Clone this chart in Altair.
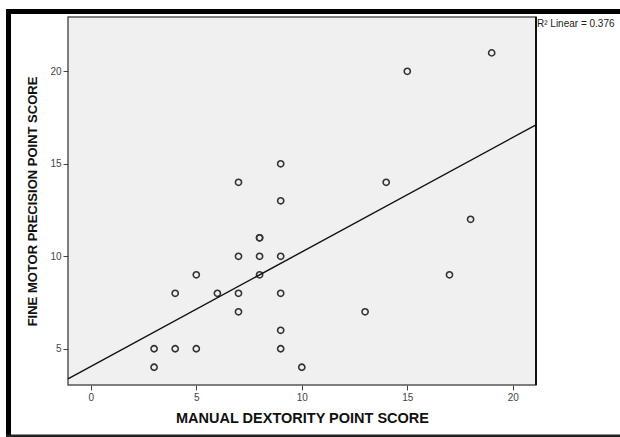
import altair as alt
import pandas as pd

# Data
manual_dexterity = [3, 3, 4, 4, 5, 5, 6, 7, 7, 7, 7, 8, 8, 8, 8, 9, 9, 9, 9, 9, 9, 10, 13, 14, 15, 17, 18, 19]
fine_motor = [5, 4, 5, 8, 5, 9, 8, 14, 10, 8, 7, 11, 11, 10, 9, 15, 13, 10, 8, 6, 5, 4, 7, 14, 20, 9, 12, 21]
x_ticks = [0, 5, 10, 15, 20]
y_ticks = [5, 10, 15, 20]
x_domain = [-1.08, 21.1]
y_domain = [3.04, 22.94]
r2_label = "R\u00b2 Linear = 0.376"
x_title = "MANUAL DEXTORITY POINT SCORE"
y_title = "FINE MOTOR PRECISION POINT SCORE"

df = pd.DataFrame({"x": manual_dexterity, "y": fine_motor})

W, H = 468, 368
FONT = "Liberation Sans"

xs = alt.Scale(domain=x_domain, nice=False, zero=False)
ys = alt.Scale(domain=y_domain, nice=False, zero=False)

x_axis = alt.Axis(values=x_ticks, title=x_title, grid=False, domain=False,
                  tickSize=5, tickColor="#444", labelColor="#444", labelFontSize=10,
                  labelFont=FONT, labelPadding=2, titleFont=FONT, titleFontSize=14.5,
                  titleFontWeight="bold", titleColor="#111", titleY=37,
                  titleBaseline="alphabetic")
y_axis = alt.Axis(values=y_ticks, title=y_title, grid=False, domain=False,
                  tickSize=5, tickColor="#444", labelColor="#444", labelFontSize=10,
                  labelFont=FONT, labelPadding=2, titleFont=FONT, titleFontSize=13,
                  titleFontWeight="bold", titleColor="#111", titleX=-36,
                  titleY=H / 2, titleBaseline="middle", titleAngle=-90,
                  titleAlign="center")

base = alt.Chart(df)

points = base.mark_point(shape="circle", filled=False, size=38, strokeWidth=1.6,
                         color="#333", opacity=1).encode(
    x=alt.X("x:Q", scale=xs, axis=x_axis),
    y=alt.Y("y:Q", scale=ys, axis=y_axis),
)

fit = base.transform_regression("x", "y", extent=x_domain).mark_line(
    color="#111", strokeWidth=1.4).encode(
    x=alt.X("x:Q", scale=xs),
    y=alt.Y("y:Q", scale=ys),
)

label = alt.Chart(pd.DataFrame({"t": [r2_label]})).mark_text(
    align="left", baseline="alphabetic", fontSize=10, font=FONT, color="#222"
).encode(x=alt.value(W + 1), y=alt.value(10), text="t:N")

right_border = alt.Chart(pd.DataFrame({"a": [0]})).mark_rule(
    color="#111", strokeWidth=2).encode(x=alt.value(W), y=alt.value(0), y2=alt.value(H))

frame_top = alt.Chart(pd.DataFrame({"a": [0]})).mark_rule(
    color="#000", strokeWidth=5).encode(x=alt.value(-62), x2=alt.value(560), y=alt.value(-5.5))
frame_left = alt.Chart(pd.DataFrame({"a": [0]})).mark_rule(
    color="#000", strokeWidth=5).encode(x=alt.value(-59.5), y=alt.value(-8), y2=alt.value(425))
frame_bottom = alt.Chart(pd.DataFrame({"a": [0]})).mark_rule(
    color="#222", strokeWidth=3).encode(x=alt.value(-62), x2=alt.value(560), y=alt.value(419))

chart = alt.layer(points, fit, label, right_border, frame_top, frame_left, frame_bottom).properties(
    width=W, height=H,
    autosize=alt.AutoSizeParams(type="none"),
    padding={"left": 68, "top": 17, "right": 84, "bottom": 52},
    background="white",
).configure_view(
    fill="#f0f0f0", stroke="#555", strokeWidth=1.5
)

chart.save("out.html", embed_options={"renderer": "svg", "actions": False})
